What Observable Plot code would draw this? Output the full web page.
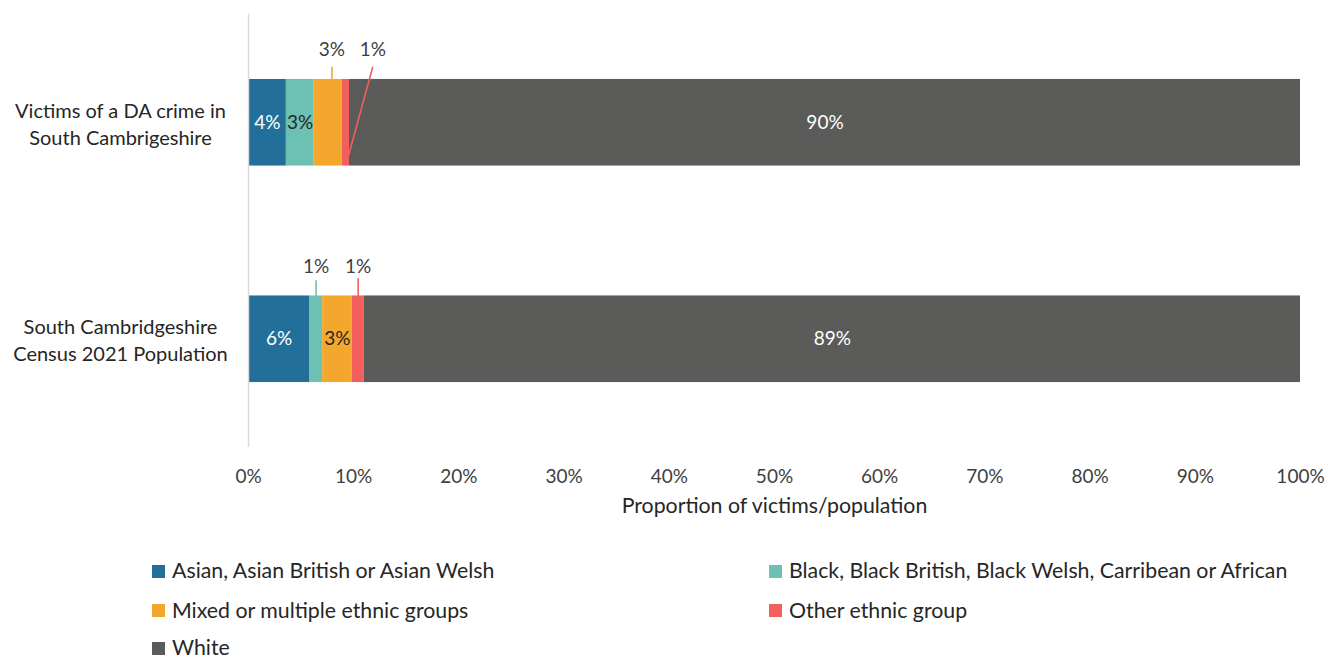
<!DOCTYPE html>
<html><head><meta charset="utf-8">
<script src="https://cdn.jsdelivr.net/npm/d3@7"></script>
<script src="https://cdn.jsdelivr.net/npm/@observablehq/plot@0.6"></script>
<style>
body{margin:0;background:#fff;font-family:Lato,sans-serif;overflow:hidden}
#chart svg{display:block}
#legend{position:relative;width:1328px;height:130px;overflow:hidden}
.item{position:absolute;display:flex;align-items:center;height:20px;line-height:1;font-size:21.3px;color:#262626;white-space:nowrap}
.sw{width:13px;height:13px;margin-right:7px;flex:none}
</style></head><body><div id="chart"></div><div id="legend"></div>
<script>
// ---- data ----
const rows = ["Victims of a DA crime in South Cambrigeshire", "South Cambridgeshire Census 2021 Population"];
const rowLines = [["Victims of a DA crime in", "South Cambrigeshire"], ["South Cambridgeshire", "Census 2021 Population"]];
const groups = ["Asian, Asian British or Asian Welsh", "Black, Black British, Black Welsh, Carribean or African", "Mixed or multiple ethnic groups", "Other ethnic group", "White"];
const victims = [3.6, 2.6, 2.7, 0.7, 90.4];
const census = [5.8, 1.25, 2.8, 1.15, 89.0];
const xTicks = [0, 10, 20, 30, 40, 50, 60, 70, 80, 90, 100];
const xTitle = "Proportion of victims/population";
const colors = ["#22709a", "#6dc1b2", "#f3a72c", "#f25f5c", "#5b5b5a"];

// ---- build table ----
const series = [victims, census];
const table = [];
series.forEach((vals, r) => {
  let acc = 0;
  vals.forEach((v, g) => {
    table.push({row: rows[r], r, group: groups[g], g, value: v, x1: acc, x2: acc + v});
    acc += v;
  });
});

// label layout (which segments get labels above the bar, and tweaks in px)
const outside = [
  {r: 0, g: 2, dx: 4, dxEnd: 4, top: -56, end: -43},
  {r: 0, g: 3, dx: 27, dxEnd: 2, top: -56, end: 35.5},
  {r: 1, g: 1, dx: 0, dxEnd: 0, top: -59, end: -43},
  {r: 1, g: 3, dx: 0, dxEnd: 0, top: -61, end: -43}
];
const isOutside = d => outside.some(o => o.r === d.r && o.g === d.g);
const pxU = 2 / 433; // y units per pixel
const mid = d => (d.x1 + d.x2) / 2;
const xPerPx = 100 / 1052;
const outRows = outside.map(o => {
  const d = table.find(t => t.r === o.r && t.g === o.g);
  return {...d, o};
});
const darkText = new Set([1, 2]);

const chart = Plot.plot({
  width: 1328,
  height: 530,
  marginLeft: 248,
  marginRight: 28,
  marginTop: 14,
  marginBottom: 83,
  style: {fontFamily: "Lato, sans-serif", fontSize: "19px", color: "#404040", background: "#fff"},
  x: {domain: [0, 100]},
  y: {domain: [0, 2], reverse: true, axis: null},
  color: {domain: groups, range: colors},
  marks: [
    Plot.rect(table, {x1: "x1", x2: "x2", y1: d => d.r + 0.3, y2: d => d.r + 0.7, fill: "group"}),
    Plot.ruleX([0], {stroke: "#d9d9d9", strokeWidth: 1.5}),
    Plot.text(table.filter(d => !isOutside(d)), {
      x: mid, y: d => d.r + 0.5, text: d => Math.round(d.value) + "%",
      fill: d => darkText.has(d.g) ? "#262626" : "#ffffff", fontSize: 19
    }),
    Plot.link(outRows, {
      x1: d => mid(d) + d.o.dx * xPerPx, y1: d => d.r + 0.5 + d.o.top * pxU,
      x2: d => mid(d) + d.o.dxEnd * xPerPx, y2: d => d.r + 0.5 + d.o.end * pxU,
      stroke: "group", strokeWidth: 1.6
    }),
    Plot.text(outRows, {
      x: d => mid(d) + d.o.dx * xPerPx, y: d => d.r + 0.5, dy: -72.5,
      text: d => Math.round(d.value) + "%", fill: "#404040", fontSize: 19
    }),
    Plot.text(rowLines, {
      frameAnchor: "left", y: (d, i) => i + 0.5, dx: -128, textAnchor: "middle",
      text: d => d.join("\n"), lineHeight: 27 / 20, fill: "#262626", fontSize: 20
    }),
    Plot.axisX({ticks: xTicks, tickFormat: d => d + "%", tickSize: 0, tickPadding: 22, label: null, fill: "#404040", fontSize: 19}),
    Plot.text([xTitle], {frameAnchor: "bottom", dy: 65, fill: "#262626", fontSize: 21.3})
  ]
});
document.getElementById("chart").appendChild(chart);

// ---- legend ----
const legend = document.getElementById("legend");
const legendRowCenters = [41, 80.5, 118];
groups.forEach((g, i) => {
  const col = i % 2, row = Math.floor(i / 2);
  const item = document.createElement("div");
  item.className = "item";
  item.style.left = (col === 0 ? 152 : 769) + "px";
  item.style.top = (legendRowCenters[row] - 10) + "px";
  const sw = document.createElement("span");
  sw.className = "sw";
  sw.style.background = colors[i];
  const tx = document.createElement("span");
  tx.textContent = g;
  item.appendChild(sw);
  item.appendChild(tx);
  legend.appendChild(item);
});
</script>
</body></html>
